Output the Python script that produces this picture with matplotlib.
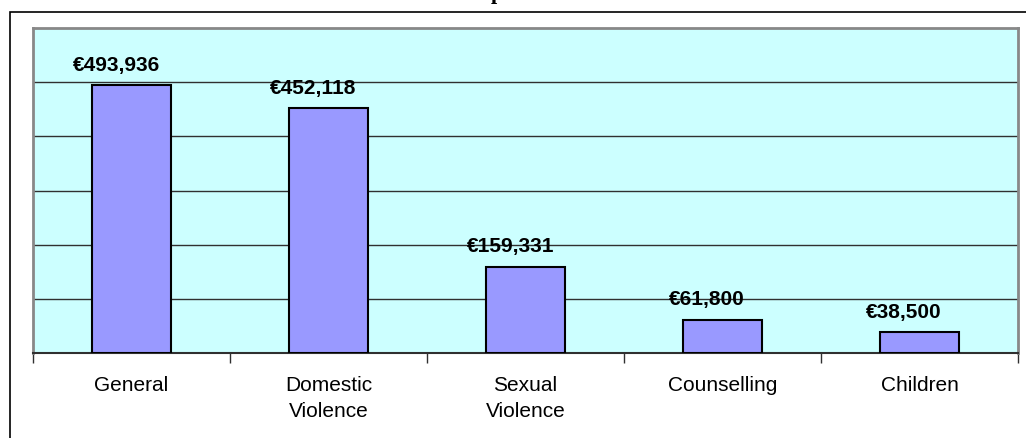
import matplotlib.pyplot as plt
from matplotlib.patches import Rectangle
from matplotlib.ticker import FixedLocator, NullFormatter

categories = ["General", "Domestic\nViolence", "Sexual\nViolence", "Counselling", "Children"]
amounts = [493936, 452118, 159331, 61800, 38500]

W, H = 1026, 439
fig = plt.figure(figsize=(W / 100, H / 100), dpi=100)
plt.rcParams['font.family'] = ['Liberation Sans', 'DejaVu Sans']

# outer chart frame (runs off the right and bottom edges)
fig.patches.append(Rectangle((10 / W, -0.1), 1.2, (H - 13) / H + 0.1,
                             transform=fig.transFigure, fill=False,
                             edgecolor='black', linewidth=1.2))

# title, clipped by the top of the image
fig.text(497 / W, 1 + 1 / H, "p", ha='center', va='baseline',
         family='Liberation Serif', fontweight='bold', fontsize=16)

ax = fig.add_axes([33 / W, (H - 354) / H, (1018 - 33) / W, (354 - 29) / H])
ax.set_facecolor('#CCFFFF')

x = range(len(categories))
ax.bar(x, amounts, width=0.4, color='#9999FF', edgecolor='black',
       linewidth=1.5, zorder=3)

ax.set_xlim(-0.5, len(categories) - 0.5)
ax.set_ylim(0, 600000)
ax.set_yticks(range(100000, 600000, 100000))
ax.yaxis.grid(True, color='#303030', linewidth=1.0)
ax.tick_params(axis='y', left=False, labelleft=False)

ax.set_xticks(list(x))
ax.set_xticklabels(categories, fontsize=15, linespacing=1.45)
ax.tick_params(axis='x', which='major', length=0, pad=16)
ax.xaxis.set_minor_locator(FixedLocator([i - 0.5 for i in range(len(categories) + 1)]))
ax.xaxis.set_minor_formatter(NullFormatter())
ax.tick_params(axis='x', which='minor', length=7, width=1.0, color='#303030', direction='out')

for side in ['top', 'left', 'right']:
    ax.spines[side].set_color('#888888')
    ax.spines[side].set_linewidth(2)
ax.spines['bottom'].set_color('#303030')
ax.spines['bottom'].set_linewidth(1.5)

for i, v in enumerate(amounts):
    ax.annotate("€{:,}".format(v), (i, v), xytext=(-11, 11), textcoords='offset points',
                ha='center', va='baseline', fontsize=15, fontweight='bold')

fig.savefig('out.png', dpi=100)
